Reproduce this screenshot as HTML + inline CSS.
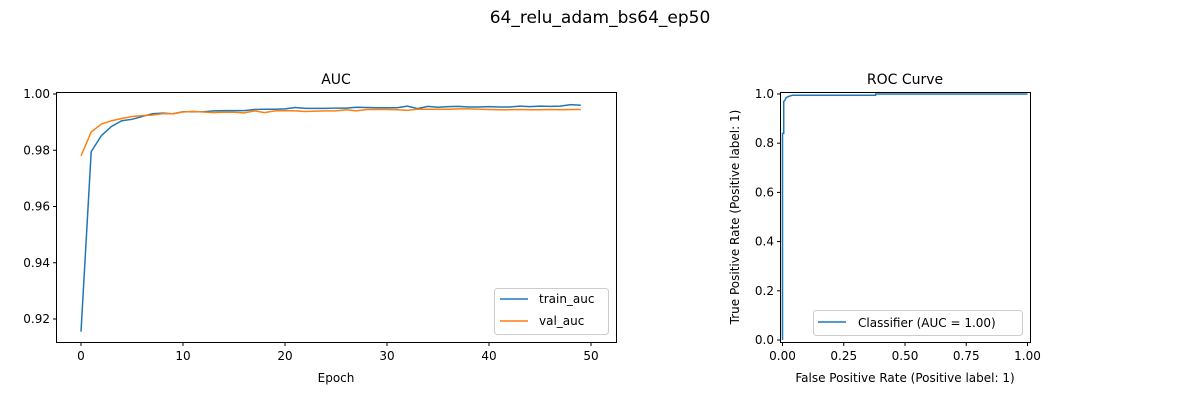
<!DOCTYPE html>
<html><head><meta charset="utf-8"><style>
body{margin:0;background:#fff;font-family:"Liberation Sans","DejaVu Sans",sans-serif}
svg text{font-family:"DejaVu Sans","Liberation Sans",sans-serif;fill:#000}
</style></head><body>
<svg id="fig" width="1200" height="400" xmlns="http://www.w3.org/2000/svg">
<rect width="1200" height="400" fill="#fff"/>
<text x="600" y="23" font-size="17" text-anchor="middle">64_relu_adam_bs64_ep50</text>
<g id="left"></g>
<g id="right"></g>
</svg>
<script>
const trainAuc=[0.9155,0.9795,0.9852,0.9885,0.9905,0.991,0.992,0.993,0.9932,0.993,0.9937,0.9937,0.9937,0.994,0.9941,0.9941,0.9941,0.9945,0.9946,0.9946,0.9947,0.9952,0.9949,0.9949,0.9949,0.995,0.995,0.9953,0.9952,0.9951,0.9951,0.9951,0.9957,0.9948,0.9956,0.9953,0.9955,0.9956,0.9954,0.9954,0.9955,0.9954,0.9954,0.9957,0.9955,0.9957,0.9956,0.9957,0.9962,0.996];
const valAuc=[0.978,0.9865,0.9893,0.9905,0.9913,0.992,0.9923,0.9925,0.993,0.993,0.9936,0.9938,0.9936,0.9934,0.9935,0.9935,0.9933,0.994,0.9934,0.994,0.9941,0.994,0.9938,0.9939,0.994,0.994,0.9944,0.994,0.9945,0.9945,0.9945,0.9944,0.9942,0.9946,0.9946,0.9946,0.9946,0.9947,0.9947,0.9946,0.9945,0.9944,0.9944,0.9945,0.9944,0.9944,0.9945,0.9944,0.9945,0.9945];
const aucXTicks=[0,10,20,30,40,50];
const aucYTicks=[0.92,0.94,0.96,0.98,1.00];
const rocFpr=[0,0,0.005,0.005,0.01,0.015,0.025,0.04,0.38,0.38,1];
const rocTpr=[0,0.84,0.84,0.97,0.975,0.985,0.99,0.995,0.995,1,1];
const rocTicks=[0,0.25,0.5,0.75,1];
const rocYTicks=[0,0.2,0.4,0.6,0.8,1];
const NS='http://www.w3.org/2000/svg';
function mk(p,t,a,txt){const e=document.createElementNS(NS,t);for(const k in a)e.setAttribute(k,a[k]);if(txt!==undefined)e.textContent=txt;p.appendChild(e);return e;}
// left
const L=document.getElementById('left');
const lx=v=>81+(v/50)*510, ly=v=>319-(v-0.92)*2812.5;
mk(L,'path',{d:trainAuc.map((v,i)=>(i?'L':'M')+lx(i)+','+ly(v)).join(''),fill:'none',stroke:'#1f77b4','stroke-width':1.5,});
mk(L,'path',{d:valAuc.map((v,i)=>(i?'L':'M')+lx(i)+','+ly(v)).join(''),fill:'none',stroke:'#ff7f0e','stroke-width':1.5,});
mk(L,'rect',{x:56.5,y:92.5,width:560,height:250,fill:'none',stroke:'#000','stroke-width':1,});
aucXTicks.forEach(t=>{const x=lx(t);mk(L,'line',{x1:x,x2:x,y1:342.5,y2:346,stroke:'#000'});mk(L,'text',{x:x,y:360,'font-size':12,'text-anchor':'middle',},t);});
aucYTicks.forEach(t=>{const y=ly(t);mk(L,'line',{x1:53,x2:56.5,y1:y,y2:y,stroke:'#000'});mk(L,'text',{x:50,y:y+4,'font-size':12,'text-anchor':'end',},t.toFixed(2));});
mk(L,'text',{x:336,y:84,'font-size':14,'text-anchor':'middle',},'AUC');
mk(L,'text',{x:336,y:382,'font-size':12,'text-anchor':'middle',},'Epoch');
const lg=mk(L,'g',{});
mk(lg,'rect',{x:494.5,y:288.5,width:114,height:46,rx:3,fill:'#fff',stroke:'#ccc'});
mk(lg,'line',{x1:500,x2:528,y1:299,y2:299,stroke:'#1f77b4','stroke-width':1.5});
mk(lg,'text',{x:539,y:303,'font-size':12,},'train_auc');
mk(lg,'line',{x1:500,x2:528,y1:321,y2:321,stroke:'#ff7f0e','stroke-width':1.5});
mk(lg,'text',{x:539,y:325,'font-size':12,},'val_auc');
// right
const R=document.getElementById('right');
const rx=v=>782.5+v*245, ry=v=>340-v*246;
mk(R,'path',{d:rocFpr.map((v,i)=>(i?'L':'M')+rx(v)+','+ry(rocTpr[i])).join(''),fill:'none',stroke:'#1f77b4','stroke-width':1.5,});
mk(R,'rect',{x:780.5,y:92.5,width:250,height:250,fill:'none',stroke:'#000',});
rocTicks.forEach(t=>{const x=rx(t);mk(R,'line',{x1:x,x2:x,y1:342.5,y2:346,stroke:'#000'});mk(R,'text',{x:x,y:360,'font-size':12,'text-anchor':'middle',},t.toFixed(2));});
rocYTicks.forEach(t=>{const y=ry(t);mk(R,'line',{x1:777,x2:780.5,y1:y,y2:y,stroke:'#000'});mk(R,'text',{x:774,y:y+4,'font-size':12,'text-anchor':'end',},t.toFixed(1));});
mk(R,'text',{x:905,y:84,'font-size':14,'text-anchor':'middle',},'ROC Curve');
mk(R,'text',{x:905,y:382,'font-size':12,'text-anchor':'middle',},'False Positive Rate (Positive label: 1)');
mk(R,'text',{x:739,y:217,'font-size':12,'text-anchor':'middle',transform:'rotate(-90 739 217)',},'True Positive Rate (Positive label: 1)');
const rg=mk(R,'g',{});
mk(rg,'rect',{x:813.5,y:310.5,width:209,height:25,rx:3,fill:'#fff',stroke:'#ccc'});
mk(rg,'line',{x1:818,x2:846,y1:322,y2:322,stroke:'#1f77b4','stroke-width':1.5});
mk(rg,'text',{x:858,y:327,'font-size':12,},'Classifier (AUC = 1.00)');
</script>
</body></html>
